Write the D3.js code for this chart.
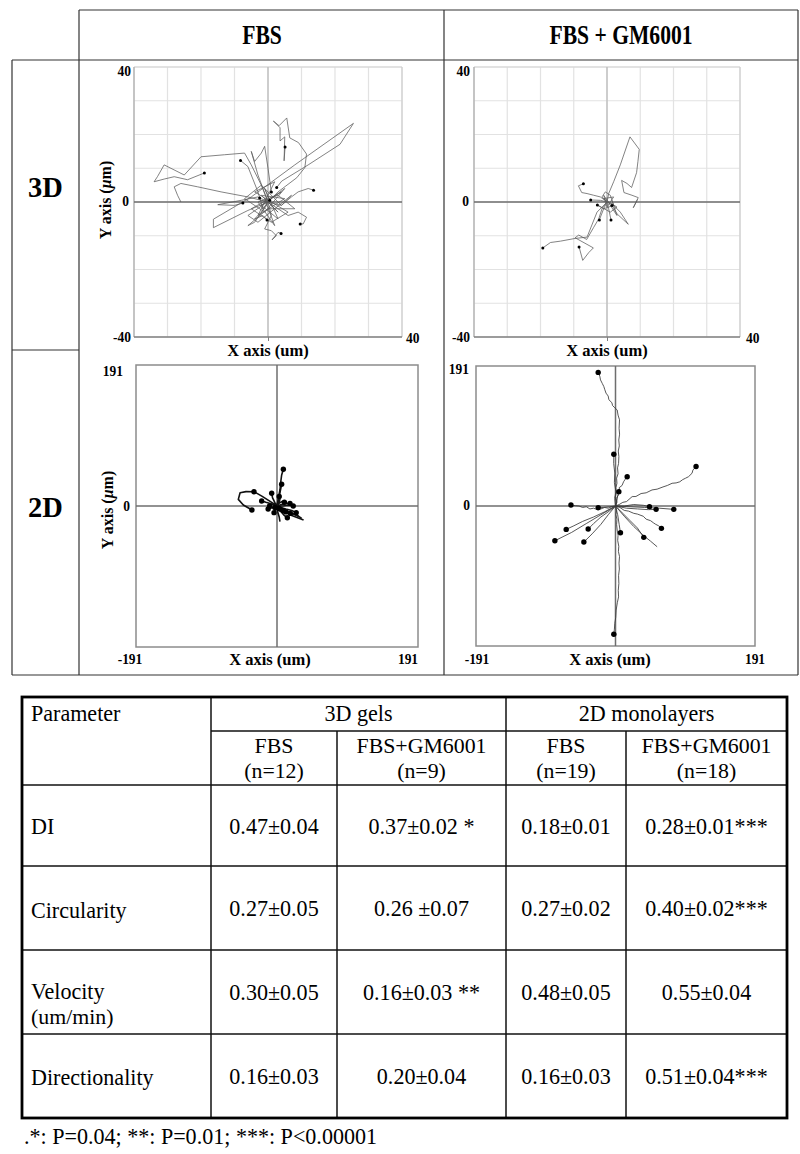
<!DOCTYPE html>
<html><head><meta charset="utf-8">
<script src="https://cdn.jsdelivr.net/npm/d3@7"></script>
<style>body{margin:0;background:#fff}</style>
</head><body>
<svg id="c" width="800" height="1154"></svg>
<script>
// ---------------- DATA ----------------
const columnTitles = ["FBS", "FBS + GM6001"];
const rowTitles = ["3D", "2D"];
const axisMax3D = 40;
const axisMax2D = 191;
const gridTicks3D = [-40, -30, -20, -10, 0, 10, 20, 30, 40];
const xAxisTitle = "X axis (um)";

// 3D gels, FBS (µm)
const tracks3dFBS = [
  [[0,0],[-2,5],[-5,11],[-7,14.5],[-13,14],[-20,13.4],[-25,8],[-31,11],[-33,7.5],[-34,6],[-31,6.8],[-28,7.5],[-24,6.6],[-19,8.6]],
  [[0,0],[-6,1.5],[-14,3],[-21,4.5],[-26,5.5],[-28,4.5],[-27,2],[-26,0]],
  [[0,0],[-6,-2.5],[-16.3,-7.6],[-16.3,-5.1],[-5,1.5],[8,11],[25.5,23.3],[21.5,17.1],[12,11],[4.1,6.2],[2.6,4.3]],
  [[0,0],[3,3],[8.6,7.2],[11,10.2],[11.5,14.2],[9.1,17.6],[6.5,19],[5.6,24.9],[3.3,22.6],[1.6,24],[3.6,22],[3.6,18.1],[5,19.3],[4.8,12.2],[5.1,16.3]],
  [[0,0],[-1.5,-2],[-3,3],[-5,8],[-6,10.5],[-8.2,12.3]],
  [[0,0],[4,-1],[7,1.5],[9,3],[12,4],[13.6,3.5]],
  [[0,0],[-3,1.5],[-8,0.5],[-15,-0.8],[-10,-1],[-7.5,-0.3]],
  [[0,0],[3,-2],[6,-4],[9,-3],[11.5,-4.5],[10.5,-6.5],[9.6,-6.5]],
  [[0,0],[1,-4],[-1,-8],[1,-8.5],[2.5,-10],[1.2,-11.2],[3,-9],[3.9,-9.3]],
  [[0,0],[-2,-3],[-4,-5],[-1.5,-4],[-0.3,-5.3]],
  [[0,0],[-3,8],[-5,15],[-4,12],[-2,14.5],[-1,16.5],[0,10],[1,3]],
  [[0,0],[3,-3],[-2,2],[5,1],[-3,-4],[2,6],[-4,3],[6,-3],[1,-6],[-5,-2],[4,3],[-2,-1],[3,-5],[-1,4],[0.5,0.5],
   [-6,-4],[-3,-6],[2,-2],[7,2],[4,-1],[-2,5],[-7,1],[-1,-3],[5,4],[1,1],[-4,-6],[-6,-7],[0,-2],[8,-2],[3,2],[-3,0],[2,-7],[-1,1]]
];
const dots3dFBS = [[-19,8.6],[5.1,16.3],[-8.2,12.3],[13.6,3.5],[-7.5,-0.3],[9.6,-6.5],[3.9,-9.3],[-0.3,-5.3],[2.6,4.3],[0.5,0.5],[1,3],[-2.5,1.2]];

// 3D gels, FBS + GM6001 (µm)
const tracks3dGM = [
  [[0,0],[0.5,2.5],[2,6],[4,11],[6.9,19.3],[9.7,15.6],[9.3,12],[8.9,8.7],[7.4,4.3],[6,5.5],[4.4,6.4],[5.1,2.8],[7.5,2],[9.4,1.3],[7.9,-1.7],[9.2,0.8]],
  [[0,0],[-1.5,-2],[-2.5,-5],[-4,-7.5],[-6.1,-11.1],[-8.5,-9.8],[-9.6,-10.6],[-4.1,-13.6],[-5.5,-15],[-7.3,-17.3],[-8.4,-13.3]],
  [[0,0],[-3,-3],[-6,-10.4],[-9.6,-10.8],[-14,-11.6],[-17,-12],[-19.3,-13.6]],
  [[0,0],[-2,1.5],[-4,2],[-6,2.5],[-7.6,2.8],[-8.6,4.8],[-7.1,5.4]],
  [[0,0],[-2,0.5],[-4.9,0.6]],
  [[0,0],[-1,-2],[-2.3,-5.3]],
  [[0,0],[0.5,-2],[1.2,-5.3]],
  [[0,0],[2,-1],[4,-3],[6.4,-6.6],[3,-3.5],[1.5,-1]],
  [[0,0],[-1.5,1.5],[-0.5,3],[1,2],[2,-1],[-1,-2],[-2.9,-0.9],[1,-3],[3,-1.5],[-1,1],[2,1.5],[0,-1.5],[-1,2],[3,-4],[1.5,0.5]]
];
const dots3dGM = [[-8.4,-13.3],[-19.3,-13.6],[-7.1,5.4],[-4.9,0.6],[-2.3,-5.3],[1.2,-5.3],[-2.9,-0.9],[1.5,-1]];

// 2D monolayers, FBS (µm)
const tracks2dFBS = [
  [[0,0],[1.8,10.4],[4,21.7],[5,32],[6.3,42],[8.6,49.7]],
  [[0,0],[2,8],[4,18],[6.3,29.4]],
  [[0,0],[-5,3.6],[-12,8],[-20,13],[-31.2,19.4],[-42,19.5],[-50,18],[-52.4,9],[-45.6,1.4],[-38,-3],[-34,-5.4]],
  [[0,0],[-8,3],[-15,5],[-20.8,6.8]],
  [[0,0],[8,-4],[16,-8],[26.6,-12.2],[33.4,-16.7]],
  [[0,0],[6,-5],[14,-8],[22,-11],[29,-14]],
  [[0,0],[4,-6],[10,-9],[18,-10]],
  [[0,0],[5,-2],[12,-4],[20,-6],[26,-9]],
  [[0,0],[1,-8],[3,-15],[4,-21.2]],
  [[0,0],[-3,5],[-6,11],[-7.2,17.2]],
  [[0,0],[6,2],[12,3],[17.6,3.6]],
  [[0,0],[-4,-2],[-9,-3],[-12,-4]],
  [[0,0],[3,4],[7,6],[10,5]],
  [[0,0],[-2,-5],[-4,-9]],
  [[0,0],[8,0],[15,1],[22,0]],
  [[0,0],[5,-7],[9,-12],[14,-16]],
  [[0,0],[-3,3],[-7,2],[-10,0]],
  [[0,0],[2,3],[4,9],[3,13]],
  [[0,0],[10,-7],[20,-13],[36,-19]]
];
const dots2dFBS = [[8.6,49.7],[6.3,29.4],[-31.2,19.4],[-34,-5.4],[-20.8,6.8],[17.6,3.6],[10,5],[-12,-4],[14,-16],[22,0],[-4,-9],[3,13],[-7.2,17.2],[26,-9],[18,-10],[-10,0],[4,-4],[-3,-2],[8,-6],[12,-8],[2,-3]];

// 2D monolayers, FBS + GM6001 (µm)
const tracks2dGM = [
  [[0,0],[1.5,6],[-0.5,12],[1.2,18],[0.5,25],[2,31],[1.5,38],[3.5,44],[2.8,52],[4.2,58],[4.6,67.5],[3.8,75],[5.2,82],[4.5,90],[5.6,98],[4.9,106],[5.5,117.6],[3.5,124],[2.3,131],[-1,134],[-4,137],[-5,141],[-9.1,145],[-10,150],[-13,154],[-14.6,158.6],[-16,163],[-18,167],[-20.5,172],[-21.5,177],[-23.7,182.3]],
  [[0,0],[1.5,-6],[0.5,-12],[2,-18],[1.5,-25],[2.3,-32.8],[3.5,-40],[3,-47],[4.5,-55],[4,-62],[5.5,-69],[4.8,-78],[5.3,-86],[4.2,-95],[4.6,-105.7],[3.8,-115],[4.2,-124],[2.5,-132],[0.9,-142],[0.3,-152],[-1,-160],[-1.5,-168],[-2.3,-175]],
  [[0,0],[5,2],[10,5],[15,6],[22.8,12.8],[28,13],[35,17],[42,18],[50,21.9],[57,23],[65,26],[71,28],[77.5,31],[83,31.5],[88,33],[92,36],[95.7,37.8],[100,40],[104.8,44.7],[106,49],[110.3,53.8]],
  [[0,0],[-1,10],[0.5,20],[-1.5,32],[-1,45],[-2.5,58],[-2.3,70.6]],
  [[0,0],[2,5],[1,10],[4,15],[6,20],[5,25],[9,28],[11,33],[13,36],[16,40]],
  [[0,0],[2,8],[3,14],[4.6,19.6]],
  [[0,0],[-5,-1],[-10,-3],[-15,-2],[-20,-4],[-25,-5],[-30,-3],[-35,-4],[-40,-1],[-45,-2],[-50,0],[-55,0.5],[-61,1.4]],
  [[0,0],[-8,-1],[-16,-2],[-23.7,-2.3]],
  [[0,0],[20,-1],[40,-2],[60,-3],[79.8,-4.6]],
  [[0,0],[15,-3],[30,-4],[45,-5],[55.6,-4.6]],
  [[0,0],[12,0],[25,2],[38,1],[46.5,-0.9]],
  [[0,0],[6,-2],[12,-6],[18,-7],[25,-10],[30,-11],[38,-14],[42,-18],[48,-20],[52,-23],[55,-25],[59,-27],[62.9,-30.5]],
  [[0,0],[10,-10],[20,-20],[30,-30],[38.7,-42.8]],
  [[0,0],[12,-14],[25,-28],[38,-40],[48,-48],[57,-55.6]],
  [[0,0],[-15,-8],[-30,-15],[-45,-21],[-57,-27],[-67.5,-31.9]],
  [[0,0],[-20,-12],[-40,-24],[-60,-36],[-83,-47.4]],
  [[0,0],[-10,-8],[-20,-15],[-30,-24],[-37.4,-31.4]],
  [[0,0],[-10,-12],[-20,-25],[-32,-38],[-43.3,-49.2]],
  [[0,0],[3,-12],[5,-25],[6.8,-36.5]]
];
const dots2dGM = [[-23.7,182.3],[-2.3,-175],[110.3,53.8],[-2.3,70.6],[16,40],[4.6,19.6],[-61,1.4],[-23.7,-2.3],[79.8,-4.6],[55.6,-4.6],[46.5,-0.9],[62.9,-30.5],[38.7,-42.8],[-67.5,-31.9],[-83,-47.4],[-37.4,-31.4],[-43.3,-49.2],[6.8,-36.5]];

// Table
const tableHeader = "Parameter";
const tableGroups = ["3D gels", "2D monolayers"];
const tableConds = ["FBS", "FBS+GM6001", "FBS", "FBS+GM6001"];
const tableN = ["(n=12)", "(n=9)", "(n=19)", "(n=18)"];
const tableParams = [["DI"], ["Circularity"], ["Velocity", "(um/min)"], ["Directionality"]];
const tableValues = [
  ["0.47±0.04", "0.37±0.02 *", "0.18±0.01", "0.28±0.01***"],
  ["0.27±0.05", "0.26 ±0.07", "0.27±0.02", "0.40±0.02***"],
  ["0.30±0.05", "0.16±0.03 **", "0.48±0.05", "0.55±0.04"],
  ["0.16±0.03", "0.20±0.04", "0.16±0.03", "0.51±0.04***"]
];
const footnote = ".*: P=0.04; **: P=0.01; ***: P<0.00001";

// ---------------- DRAW ----------------
const svg = d3.select("#c");
const SERIF = "'Liberation Serif','Times New Roman',serif";

function txt(parent, x, y, s, size, o = {}) {
  const t = parent.append("text")
    .attr("transform", `translate(${x},${y})${o.rot ? " rotate(" + o.rot + ")" : ""} scale(${o.sx || 1},1)`)
    .attr("font-family", SERIF).attr("font-size", size)
    .attr("font-weight", o.bold ? "bold" : "normal")
    .attr("text-anchor", o.anchor || "middle")
    .attr("fill", "#000");
  if (s !== null) t.text(s);
  return t;
}
function line(parent, x1, y1, x2, y2, color, w) {
  parent.append("line").attr("x1", x1).attr("y1", y1).attr("x2", x2).attr("y2", y2)
    .attr("stroke", color).attr("stroke-width", w);
}

// Figure frame (grid of cells)
const fig = svg.append("g");
const FC = "#333";
line(fig, 79, 10, 798, 10, FC, 1.2);
line(fig, 12, 60, 798, 60, FC, 1.2);
line(fig, 12, 675, 798, 675, FC, 1.2);
line(fig, 12, 350, 79, 350, FC, 1.2);
line(fig, 12, 60, 12, 675, FC, 1.2);
line(fig, 79, 10, 79, 675, FC, 1.2);
line(fig, 444, 10, 444, 675, FC, 1.2);
line(fig, 798, 10, 798, 675, FC, 1.2);

txt(fig, 262, 44, columnTitles[0], 27, {bold: true, sx: 0.8});
txt(fig, 621, 44, columnTitles[1], 27, {bold: true, sx: 0.8});
txt(fig, 45.5, 197, rowTitles[0], 30, {bold: true, sx: 0.95});
txt(fig, 45.5, 517, rowTitles[1], 30, {bold: true, sx: 0.95});

function yTitle(parent, cx, cy) {
  const t = txt(parent, cx + 5, cy, null, 16, {bold: true, rot: -90});
  t.append("tspan").text("Y axis (");
  t.append("tspan").attr("font-style", "italic").text("μ");
  t.append("tspan").text("m)");
}

function panel(cfg) {
  const x = d3.scaleLinear().domain([-cfg.max, cfg.max]).range([cfg.x0, cfg.x1]);
  const y = d3.scaleLinear().domain([-cfg.max, cfg.max]).range([cfg.y1, cfg.y0]);
  const g = svg.append("g");
  if (cfg.grid) {
    g.selectAll(".gx").data(gridTicks3D).join("line")
      .attr("x1", d => x(d)).attr("x2", d => x(d)).attr("y1", cfg.y0).attr("y2", cfg.y1)
      .attr("stroke", "#e2e2e2").attr("stroke-width", 1.2);
    g.selectAll(".gy").data(gridTicks3D).join("line")
      .attr("y1", d => y(d)).attr("y2", d => y(d)).attr("x1", cfg.x0).attr("x2", cfg.x1)
      .attr("stroke", "#e2e2e2").attr("stroke-width", 1.2);
    line(g, cfg.x0, cfg.y0, cfg.x1, cfg.y0, "#d4d4d4", 1.2);
    line(g, cfg.x1, cfg.y0, cfg.x1, cfg.y1, "#cfcfcf", 1.2);
    line(g, cfg.x0, cfg.y0, cfg.x0, cfg.y1, "#a8a8a8", 1.2);
    line(g, x(0), cfg.y0, x(0), cfg.y1, "#b8b8b8", 1.2);
    line(g, cfg.x0, y(0), cfg.x1, y(0), "#6e6e6e", 1.4);
    line(g, cfg.x0, cfg.y1, cfg.x1, cfg.y1, "#808080", 1.6);
    const ax = g.append("g").attr("transform", `translate(0,${cfg.y1})`)
      .call(d3.axisBottom(x).tickValues([0]).tickSize(4).tickFormat(""));
    ax.select(".domain").remove();
    ax.selectAll("line").attr("stroke", "#808080");
  } else {
    g.append("rect").attr("x", cfg.x0).attr("y", cfg.y0)
      .attr("width", cfg.x1 - cfg.x0).attr("height", cfg.y1 - cfg.y0)
      .attr("fill", "none").attr("stroke", "#8c8c8c").attr("stroke-width", 1.5);
    line(g, x(0), cfg.y0, x(0), cfg.y1, "#6e6e6e", 1.5);
    line(g, cfg.x0, y(0), cfg.x1, y(0), "#6e6e6e", 1.5);
  }
  const gen = d3.line().x(d => x(d[0])).y(d => y(d[1]));
  g.append("g").selectAll("path").data(cfg.tracks).join("path")
    .attr("d", gen).attr("fill", "none")
    .attr("stroke", cfg.stroke).attr("stroke-width", cfg.sw).attr("stroke-linejoin", "round");
  g.append("g").selectAll("circle").data(cfg.dots).join("circle")
    .attr("cx", d => x(d[0])).attr("cy", d => y(d[1])).attr("r", cfg.r).attr("fill", "#000");

  const L = cfg.labels;
  const m = String(cfg.max);
  const ls = 15;
  txt(g, L.topX, L.topY, m, ls, {bold: true, anchor: "end", sx: 0.9});
  txt(g, L.zeroX, L.zeroY, "0", ls, {bold: true, anchor: "end", sx: 0.9});
  txt(g, L.minX, L.minY, "-" + m, ls, {bold: true, anchor: L.minAnchor, sx: 0.9});
  txt(g, L.maxX, L.maxY, m, ls, {bold: true, anchor: L.maxAnchor, sx: 0.9});
  txt(g, L.titleX, L.titleY, xAxisTitle, 16.5, {bold: true});
  if (L.yTitle) yTitle(g, L.yTitle[0], L.yTitle[1]);
}

panel({max: axisMax3D, x0: 134, x1: 402, y0: 67, y1: 337, grid: true,
  tracks: tracks3dFBS, dots: dots3dFBS, stroke: "#5a5a5a", sw: 0.75, r: 1.5,
  labels: {topX: 131, topY: 76, zeroX: 129, zeroY: 206, minX: 131, minY: 342, minAnchor: "end",
    maxX: 406, maxY: 343, maxAnchor: "start", titleX: 268, titleY: 356, yTitle: [106, 200]}});
panel({max: axisMax3D, x0: 474, x1: 740, y0: 67, y1: 337, grid: true,
  tracks: tracks3dGM, dots: dots3dGM, stroke: "#5a5a5a", sw: 0.75, r: 1.5,
  labels: {topX: 470, topY: 76, zeroX: 469, zeroY: 206, minX: 470, minY: 342, minAnchor: "end",
    maxX: 746, maxY: 343, maxAnchor: "start", titleX: 607, titleY: 356}});
panel({max: axisMax2D, x0: 136, x1: 418, y0: 365, y1: 647, grid: false,
  tracks: tracks2dFBS, dots: dots2dFBS, stroke: "#111", sw: 1.6, r: 2.7,
  labels: {topX: 123, topY: 376, zeroX: 130, zeroY: 511, minX: 130, minY: 664, minAnchor: "middle",
    maxX: 408, maxY: 664, maxAnchor: "middle", titleX: 270, titleY: 665, yTitle: [108, 510]}});
panel({max: axisMax2D, x0: 476, x1: 755, y0: 366, y1: 646, grid: false,
  tracks: tracks2dGM, dots: dots2dGM, stroke: "#3a3a3a", sw: 0.85, r: 2.7,
  labels: {topX: 469, topY: 374, zeroX: 470, zeroY: 510, minX: 477, minY: 664, minAnchor: "middle",
    maxX: 755, maxY: 664, maxAnchor: "middle", titleX: 610, titleY: 665}});

// ---------------- TABLE ----------------
const tb = svg.append("g");
const colX = [22, 211, 337, 506, 626, 787];
const rowY = [697, 731, 785, 866, 950, 1034, 1118];
const TC = "#111";
line(tb, colX[1], rowY[1], colX[5], rowY[1], TC, 1.5);
for (let i = 2; i < rowY.length - 1; i++) line(tb, colX[0], rowY[i], colX[5], rowY[i], TC, 1.5);
line(tb, colX[1], rowY[0], colX[1], rowY[6], TC, 1.5);
line(tb, colX[3], rowY[0], colX[3], rowY[6], TC, 1.5);
line(tb, colX[2], rowY[1], colX[2], rowY[6], TC, 1.5);
line(tb, colX[4], rowY[1], colX[4], rowY[6], TC, 1.5);
tb.append("rect").attr("x", colX[0]).attr("y", rowY[0])
  .attr("width", colX[5] - colX[0]).attr("height", rowY[6] - rowY[0])
  .attr("fill", "none").attr("stroke", "#000").attr("stroke-width", 2.8);

const TS = 23;
const tsx = 0.96;
const TSH = 21;
txt(tb, 31, 721, tableHeader, TS, {anchor: "start", sx: tsx});
txt(tb, (colX[1] + colX[3]) / 2, 721, tableGroups[0], TS, {sx: tsx});
txt(tb, (colX[3] + colX[5]) / 2, 721, tableGroups[1], TS, {sx: tsx});
tableConds.forEach((c, i) => {
  const cx = (colX[i + 1] + colX[i + 2]) / 2;
  txt(tb, cx, 753, c, TSH, {sx: 1.04});
  txt(tb, cx, 778, tableN[i], TSH, {sx: 1.04});
});
const paramBase = [[834], [918], [999], [1085]];
tableParams.forEach((p, r) => {
  p.forEach((s, k) => txt(tb, 31, paramBase[r][0] + k * 25, s, k ? TSH : TS, {anchor: "start", sx: k ? 1.04 : tsx}));
  const midY = (rowY[r + 2] + rowY[r + 3]) / 2 + 8;
  tableValues[r].forEach((v, c) => {
    const cx = (colX[c + 1] + colX[c + 2]) / 2;
    txt(tb, cx, midY, v, TS, {sx: tsx});
  });
});
txt(tb, 24, 1144, footnote, TS, {anchor: "start", sx: tsx});
</script>
</body></html>
